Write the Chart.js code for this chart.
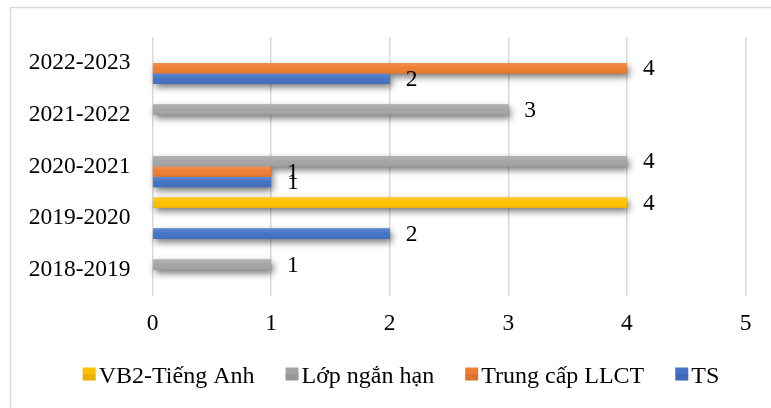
<!DOCTYPE html>
<html>
<head>
<meta charset="utf-8">
<script src="https://cdn.jsdelivr.net/npm/chart.js@4/dist/chart.umd.min.js"></script>
<style>
  html, body { margin: 0; padding: 0; background: #ffffff; }
  #wrap { width: 771px; height: 408px; position: relative; }
</style>
</head>
<body>
<div id="wrap"><canvas id="c" width="771" height="408"></canvas></div>
<script>
// School years, listed from the top row down
const years = ['2022-2023', '2021-2022', '2020-2021', '2019-2020', '2018-2019'];

// Number of people sent to each kind of training, per school year
const vb2TiengAnh = [null, null, null, 4, null];
const lopNganHan  = [null, 3, 4, null, 1];
const trungCapLLCT = [4, null, 1, null, null];
const ts = [2, null, 1, 2, null];

const seriesNames = ['VB2-Tiếng Anh', 'Lớp ngắn hạn', 'Trung cấp LLCT', 'TS'];
const seriesColors = ['#FFC000', '#A5A5A5', '#ED7D31', '#4472C4'];
const xTicks = [0, 1, 2, 3, 4, 5];

const FONT = "'Liberation Serif', 'Times New Roman', serif";
const FONT_SIZE = 23.5;
const LEGEND_SIZE = 24;

// Soft drop shadow under each bar, painted before any bar so it never covers a neighbour
const barShadow = {
  id: 'barShadow',
  beforeDatasetsDraw(chart) {
    const ctx = chart.ctx;
    ctx.save();
    ctx.shadowColor = 'rgba(0,0,0,0.55)';
    ctx.shadowBlur = 7;
    ctx.shadowOffsetX = 2;
    ctx.shadowOffsetY = 3.5;
    chart.data.datasets.forEach((ds, di) => {
      const meta = chart.getDatasetMeta(di);
      meta.data.forEach((bar, i) => {
        if (ds.data[i] == null) return;
        const p = bar.getProps(['x', 'y', 'base', 'height'], true);
        ctx.fillStyle = ds.backgroundColor;
        ctx.fillRect(Math.min(p.base, p.x), p.y - p.height / 2, Math.abs(p.x - p.base), p.height);
      });
    });
    ctx.restore();
  }
};

// Light top-to-bottom shading on the bars and the value written past each bar end
const barFinish = {
  id: 'barFinish',
  afterDatasetsDraw(chart) {
    const ctx = chart.ctx;
    ctx.save();
    chart.data.datasets.forEach((ds, di) => {
      const meta = chart.getDatasetMeta(di);
      meta.data.forEach((bar, i) => {
        const v = ds.data[i];
        if (v == null) return;
        const p = bar.getProps(['x', 'y', 'base', 'height'], true);
        const top = p.y - p.height / 2;
        const g = ctx.createLinearGradient(0, top, 0, top + p.height);
        g.addColorStop(0, 'rgba(255,255,255,0.16)');
        g.addColorStop(0.5, 'rgba(255,255,255,0)');
        g.addColorStop(1, 'rgba(0,0,0,0.07)');
        ctx.fillStyle = g;
        ctx.fillRect(Math.min(p.base, p.x), top, Math.abs(p.x - p.base), p.height);
      });
    });
    ctx.fillStyle = '#000';
    ctx.font = FONT_SIZE + 'px ' + FONT;
    ctx.textAlign = 'left';
    ctx.textBaseline = 'middle';
    chart.data.datasets.forEach((ds, di) => {
      const meta = chart.getDatasetMeta(di);
      meta.data.forEach((bar, i) => {
        const v = ds.data[i];
        if (v == null) return;
        const p = bar.getProps(['x', 'y'], true);
        ctx.fillText(String(v), p.x + 16, p.y + 1);
      });
    });
    ctx.restore();
  }
};

// Outer frame and the legend row under the plot
const frameAndLegend = {
  id: 'frameAndLegend',
  afterDraw(chart) {
    const ctx = chart.ctx;
    ctx.save();
    ctx.strokeStyle = '#d9d9d9';
    ctx.lineWidth = 1.5;
    ctx.strokeRect(10.5, 7.5, 800, 430);

    ctx.font = LEGEND_SIZE + 'px ' + FONT;
    ctx.textBaseline = 'alphabetic';
    ctx.textAlign = 'left';
    const box = 13, gap = 3, spacing = 31;
    const widths = chart.data.datasets.map(ds => box + gap + ctx.measureText(ds.label).width);
    const total = widths.reduce((a, b) => a + b, 0) + spacing * (widths.length - 1);
    let x = 401 - total / 2;
    const baseline = 383;
    chart.data.datasets.forEach((ds, i) => {
      const g = ctx.createLinearGradient(0, baseline - 15.5, 0, baseline - 2.5);
      g.addColorStop(0, ds.backgroundColor);
      g.addColorStop(1, ds.backgroundColor);
      ctx.fillStyle = g;
      ctx.fillRect(x, baseline - 15.5, box, box);
      ctx.fillStyle = 'rgba(0,0,0,0.08)';
      ctx.fillRect(x, baseline - 9, box, 6.5);
      ctx.fillStyle = '#000';
      ctx.fillText(ds.label, x + box + gap, baseline);
      x += widths[i] + spacing;
    });
    ctx.restore();
  }
};

new Chart(document.getElementById('c'), {
  type: 'bar',
  data: {
    labels: years,
    datasets: [
      { label: seriesNames[0], data: vb2TiengAnh, backgroundColor: seriesColors[0] },
      { label: seriesNames[1], data: lopNganHan, backgroundColor: seriesColors[1] },
      { label: seriesNames[2], data: trungCapLLCT, backgroundColor: seriesColors[2] },
      { label: seriesNames[3], data: ts, backgroundColor: seriesColors[3] }
    ]
  },
  options: {
    indexAxis: 'y',
    responsive: false,
    animation: false,
    devicePixelRatio: 1,
    categoryPercentage: 0.8,
    barPercentage: 1.0,
    borderWidth: 0,
    layout: { padding: { left: 0, right: 25.5, top: 37.2, bottom: 72.3 } },
    plugins: {
      legend: { display: false },
      tooltip: { enabled: false }
    },
    scales: {
      x: {
        min: 0,
        max: 5,
        afterBuildTicks(scale) { scale.ticks = xTicks.map(v => ({ value: v })); },
        afterFit(scale) { scale.height = 40; },
        grid: { color: '#d9d9d9', lineWidth: 1.5, drawTicks: false },
        border: { display: false },
        ticks: { padding: 14, color: '#000', font: { family: FONT, size: FONT_SIZE } }
      },
      y: {
        afterFit(scale) { scale.width = 152.5; },
        grid: { display: false, drawTicks: false },
        border: { display: false },
        ticks: { padding: 22, color: '#000', font: { family: FONT, size: FONT_SIZE } }
      }
    }
  },
  plugins: [barShadow, barFinish, frameAndLegend]
});
</script>
</body>
</html>
